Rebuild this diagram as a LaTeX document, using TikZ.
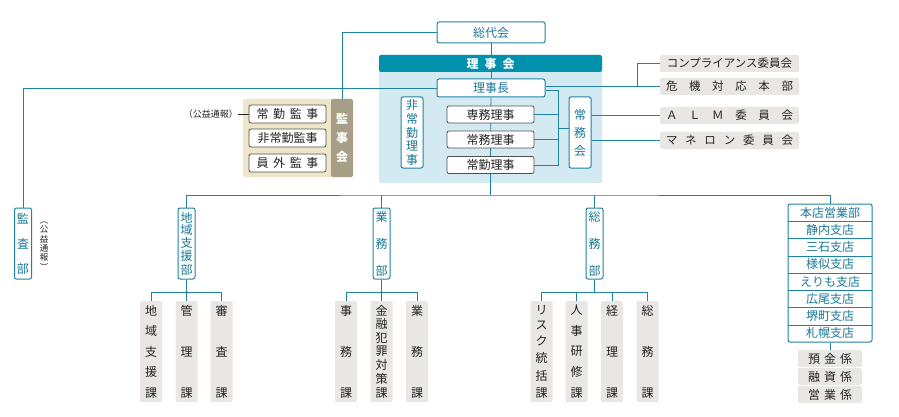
\documentclass[tikz,border=0pt]{standalone}
\usepackage{fontspec}
\setmainfont{Noto Sans CJK JP}
\usetikzlibrary{calc}
\definecolor{lnc}{RGB}{30,130,160}
\definecolor{hdr}{RGB}{0,146,172}
\definecolor{pnl}{RGB}{212,234,242}
\definecolor{ttx}{RGB}{25,120,150}
\definecolor{gbd}{RGB}{80,80,80}
\definecolor{gfl}{RGB}{233,230,227}
\definecolor{bge}{RGB}{238,230,200}
\definecolor{stp}{RGB}{166,158,134}
\definecolor{dtx}{RGB}{35,35,35}
\newcommand\spreadh[2]{\makebox[#1][s]{#2}}
\newcommand\spreadv[2]{\parbox[c][#1][s]{1.2em}{\centering\baselineskip=0pt\lineskip=0pt\lineskiplimit=0pt #2\par}}
\newcommand\vn{\par\vfill}
\pgfdeclarelayer{bgzero}
\pgfdeclarelayer{bgone}
\pgfsetlayers{bgzero,bgone,main}
\begin{document}
\begin{tikzpicture}[x=1pt,y=-1pt,
  ln/.style={draw=lnc,line width=0.9pt},
  f12/.style={font=\fontsize{12}{12}\selectfont},
  tbox/.style={draw=lnc,line width=1pt,fill=white,rounded corners=2pt,text=ttx,inner sep=0pt,f12},
  gbox/.style={draw=gbd,line width=0.8pt,fill=white,rounded corners=2pt,text=dtx,inner sep=0pt,f12},
  fbox/.style={fill=gfl,rounded corners=2pt,text=dtx,inner sep=0pt,f12},
  rbox/.style={fbox,minimum width=139pt,minimum height=17pt,font=\fontsize{11.5}{11.5}\selectfont},
  subbox/.style={fbox,minimum width=22pt,minimum height=101pt},
  vbox/.style={tbox,minimum width=17pt,minimum height=71pt},
  brow/.style={inner sep=0pt,text=ttx,f12,minimum width=84pt,minimum height=17.25pt},
  kakari/.style={fbox,minimum width=64pt,minimum height=17pt}]
\useasboundingbox (0,0) rectangle (899,417);

% panels
\begin{pgfonlayer}{bgzero}
\node[fill=pnl,rounded corners=2pt,minimum width=223pt,minimum height=128pt,inner sep=0pt] (rjpanel) at (490.5,119) {};
\node[fill=bge,rounded corners=2pt,minimum width=110pt,minimum height=78pt,inner sep=0pt] (kjpanel) at (298,138) {};
\end{pgfonlayer}

% top
\node[tbox,minimum width=108pt,minimum height=21pt] (sodai) at (491,32.5) {総代会};
\node[fill=hdr,rounded corners=2pt,minimum width=223pt,minimum height=17pt,inner sep=0pt,text=white,font=\fontsize{12}{12}\selectfont\bfseries] (rjhead) at (490.5,63.5) {\spreadh{48pt}{理\hfill 事\hfill 会}};
\node[tbox,minimum width=108pt,minimum height=18pt] (rijicho) at (491,88) {理事長};
\node[gbox,minimum width=87pt,minimum height=17pt] (senmu) at (490.5,114.5) {専務理事};
\node[gbox,minimum width=87pt,minimum height=17pt] (jomu) at (490.5,139.5) {常務理事};
\node[gbox,minimum width=87pt,minimum height=17pt] (jokin) at (490.5,165) {常勤理事};
\node[tbox,minimum width=22pt,minimum height=71pt] (hijokin) at (412,132.5) {\spreadv{65pt}{非\vn 常\vn 勤\vn 理\vn 事}};
\node[tbox,minimum width=22pt,minimum height=71pt] (jomukai) at (580,132.5) {\spreadv{46pt}{常\vn 務\vn 会}};

% right committees
\node[rbox] (comp) at (729.5,63.5) {コンプライアンス委員会};
\node[rbox] (kiki) at (729.5,86.5) {\spreadh{127pt}{危\hfill 機\hfill 対\hfill 応\hfill 本\hfill 部}};
\node[rbox] (alm) at (729.5,115.5) {\spreadh{127pt}{Ａ\hfill Ｌ\hfill Ｍ\hfill 委\hfill 員\hfill 会}};
\node[rbox] (maneron) at (729.5,140.5) {\spreadh{127pt}{マ\hfill ネ\hfill ロ\hfill ン\hfill 委\hfill 員\hfill 会}};

% auditors
\node[fill=stp,rounded corners=2pt,minimum width=22pt,minimum height=78pt,inner sep=0pt,text=white,font=\fontsize{12}{12}\selectfont\bfseries] (kanjikai) at (342,138) {\spreadv{49pt}{監\vn 事\vn 会}};
\node[gbox,minimum width=77pt,minimum height=18pt] (jkanji) at (287.5,114) {\spreadh{62pt}{常\hfill 勤\hfill 監\hfill 事}};
\node[gbox,minimum width=77pt,minimum height=18pt] (hkanji) at (287.5,138) {非常勤監事};
\node[gbox,minimum width=77pt,minimum height=18pt] (ikanji) at (287.5,163) {\spreadh{62pt}{員\hfill 外\hfill 監\hfill 事}};
\node[anchor=east,inner sep=0pt,text=dtx,font=\fontsize{9}{9}\selectfont] (koueki) at (238,114) {（公益通報）};

% audit dept
\node[vbox] (kansabu) at (23,243.5) {\spreadv{60pt}{監\vn 査\vn 部}};
\node[inner sep=0pt,text=dtx,font=\fontsize{8.5}{8.5}\selectfont] (koueki2) at (44,246) {\spreadv{48pt}{︵\vn 公\vn 益\vn 通\vn 報\vn ︶}};

% departments
\node[vbox] (chiiki) at (186.5,243.5) {\spreadv{62pt}{地\vn 域\vn 支\vn 援\vn 部}};
\node[vbox] (gyomu) at (381.5,243.5) {\spreadv{64pt}{業\vn 務\vn 部}};
\node[vbox] (somu) at (594.5,243.5) {\spreadv{64pt}{総\vn 務\vn 部}};

% sections
\node[subbox] (c1) at (151,351.5) {\spreadv{92pt}{地\vn 域\vn 支\vn 援\vn 課}};
\node[subbox] (c2) at (186.5,351.5) {\spreadv{92pt}{管\vn 理\vn 課}};
\node[subbox] (c3) at (221.5,351.5) {\spreadv{92pt}{審\vn 査\vn 課}};
\node[subbox] (g1) at (346,351.5) {\spreadv{92pt}{事\vn 務\vn 課}};
\node[subbox] (g2) at (381.5,351.5) {\spreadv{92pt}{金\vn 融\vn 犯\vn 罪\vn 対\vn 策\vn 課}};
\node[subbox] (g3) at (417,351.5) {\spreadv{92pt}{業\vn 務\vn 課}};
\node[subbox] (s1) at (541.5,351.5) {\spreadv{92pt}{リ\vn ス\vn ク\vn 統\vn 括\vn 課}};
\node[subbox] (s2) at (576.5,351.5) {\spreadv{92pt}{人\vn 事\vn 研\vn 修\vn 課}};
\node[subbox] (s3) at (612,351.5) {\spreadv{92pt}{経\vn 理\vn 課}};
\node[subbox] (s4) at (647.5,351.5) {\spreadv{92pt}{総\vn 務\vn 課}};

% branches
\node[tbox,minimum width=84pt,minimum height=138pt] (branches) at (830,273) {};
\foreach \t [count=\i] in {本店営業部,静内支店,三石支店,様似支店,えりも支店,広尾支店,堺町支店,札幌支店}
  \node[brow] (b\i) at (830,{204+17.25*(\i-0.5)}) {\t};
\foreach \i in {1,...,7}
  \draw[draw=lnc,line width=0.9pt] (b\i.south west) -- (b\i.south east);
\node[kakari] (yokin) at (830,358.5) {\spreadh{44pt}{預\hfill 金\hfill 係}};
\node[kakari] (yushi) at (830,376.5) {\spreadh{44pt}{融\hfill 資\hfill 係}};
\node[kakari] (eigyo) at (830,394.5) {\spreadh{44pt}{営\hfill 業\hfill 係}};

% connectors
\coordinate (hub) at (490.5,195);
\coordinate (busy) at (0,292);
\coordinate (jc) at (637,86.5);
\coordinate (bt) at (558,90);
\coordinate (bb) at (558,165);
\coordinate (bm) at (558,128);
\begin{pgfonlayer}{bgone}
\draw[ln] (sodai.south) -- (rijicho.north);
\draw[ln] (rijicho.south) -- (jokin.north);
\draw[ln] (jokin.south) -- (hub);
\draw[ln] ([yshift=1.5pt]rijicho.east) -- (kiki.west);
\draw[ln] (jc) |- (comp.west);
\draw[ln] ([yshift=-2pt]rijicho.east) -- (bt) -- (bb) -- (jokin.east);
\draw[ln] (senmu.east) -- (senmu.east -| bt);
\draw[ln] (jomu.east) -- (jomu.east -| bt);
\draw[ln] (bm) -- (bm -| jomukai.west);
\draw[ln] (alm.west -| jomukai.east) -- (alm.west);
\draw[ln] (maneron.west -| jomukai.east) -- (maneron.west);
\draw[ln] (sodai.west) -| (kanjikai.north);
\draw[ln] (rijicho.west) -| (kansabu.north);
\draw[draw=dtx,line width=0.8pt] (koueki.east) -- (jkanji.west);
\draw[ln] (chiiki.north) |- (hub) -| (branches.north);
\draw[ln] (gyomu.north) -- (gyomu.north |- hub);
\draw[ln] (somu.north) -- (somu.north |- hub);
\draw[ln] (chiiki.south) -- (c2.north);
\draw[ln] (c1.north) |- (c1.north |- busy) -| (c3.north);
\draw[ln] (gyomu.south) -- (g2.north);
\draw[ln] (g1.north) |- (g1.north |- busy) -| (g3.north);
\draw[ln] (somu.south) -- (somu.south |- busy);
\draw[ln] (s1.north) |- (s1.north |- busy) -| (s4.north);
\draw[ln] (s2.north) -- (s2.north |- busy);
\draw[ln] (s3.north) -- (s3.north |- busy);
\draw[ln] (branches.south) -- (yokin.north);
\end{pgfonlayer}
\end{tikzpicture}
\end{document}
